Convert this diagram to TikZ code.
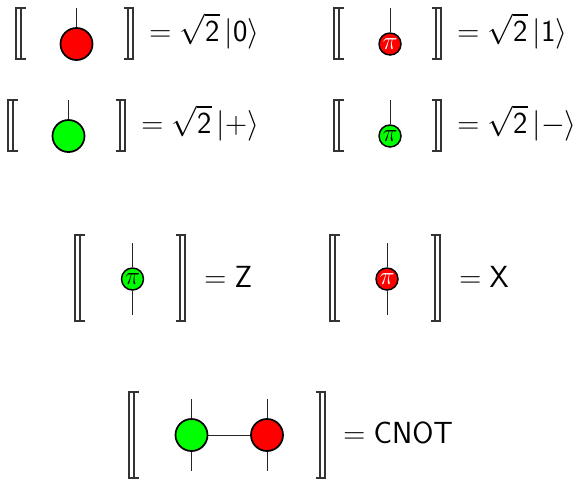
\documentclass[tikz,border=0pt]{standalone}
\usepackage{fix-cm}
\usepackage{amsmath,amssymb}
\usepackage{tikz}
\usetikzlibrary{positioning}
\tikzset{
  brk/.style={line width=1pt,black!80},
  wire/.style={line width=0.75pt,black!85},
  rbig/.style={circle,draw=black,fill=red,line width=1.3pt,minimum size=24pt,inner sep=0pt},
  gbig/.style={circle,draw=black,fill=green,line width=1.3pt,minimum size=24pt,inner sep=0pt},
  rpi/.style={circle,draw=black,fill=red,text=white,line width=1.1pt,minimum size=16.5pt,inner sep=0pt,font=\fontsize{19}{19}\selectfont},
  gpi/.style={circle,draw=black,fill=green,text=black,line width=1.1pt,minimum size=16.5pt,inner sep=0pt,font=\fontsize{19}{19}\selectfont},
  eqn/.style={anchor=base west,inner sep=0pt,font=\fontsize{22.9}{25}\selectfont},
}
% semantic brackets: left x, right x, top y, bottom y
\newcommand{\dbrk}[4]{
  \draw[brk] (#1+9.5,#3)--(#1,#3)--(#1,#4)--(#1+9.5,#4);
  \draw[brk] (#1+5,#3)--(#1+5,#4);
  \draw[brk] (#2-9.5,#3)--(#2,#3)--(#2,#4)--(#2-9.5,#4);
  \draw[brk] (#2-5,#3)--(#2-5,#4);
}
\newcommand{\ket}[1]{\lvert #1\rangle}
\begin{document}
\begin{tikzpicture}[x=0.75pt,y=-0.75pt]
  \useasboundingbox (0,0) rectangle (575,483);
  % states, red row
  \dbrk{16}{133}{8}{59}
  \node[rbig] (zero) at (76.5,44) {};
  \coordinate (zerotop) at (76.5,8);
  \draw[wire] (zerotop)--(zero);
  \node[eqn] (zeroeq) at (149,41) {$=\sqrt{\mathsf{2}}\,\ket{\mathsf{0}}$};
  \dbrk{334}{441}{8}{59}
  \node[rpi] (one) at (390,44) {$\pi$};
  \coordinate (onetop) at (390,8);
  \draw[wire] (onetop)--(one);
  \node[eqn] (oneeq) at (457,41) {$=\sqrt{\mathsf{2}}\,\ket{\mathsf{1}}$};
  % states, green row
  \dbrk{8}{125}{100}{151}
  \node[gbig] (plus) at (68.5,136) {};
  \coordinate (plustop) at (68.5,100);
  \draw[wire] (plustop)--(plus);
  \node[eqn] (pluseq) at (141,133) {$=\sqrt{\mathsf{2}}\,\ket{+}$};
  \dbrk{334}{441}{100}{151}
  \node[gpi] (minus) at (390,136) {$\pi$};
  \coordinate (minustop) at (390,100);
  \draw[wire] (minustop)--(minus);
  \node[eqn] (minuseq) at (457,133) {$=\sqrt{\mathsf{2}}\,\ket{-}$};
  % Z and X
  \dbrk{75}{185}{235}{321}
  \coordinate (ztop) at (132.5,243);
  \coordinate (zbot) at (132.5,315);
  \node[gpi] (zgate) at (132.5,279) {$\pi$};
  \draw[wire] (ztop)--(zgate);
  \draw[wire] (zgate)--(zbot);
  \node[eqn] (zeq) at (204,287) {$=\mathsf{Z}$};
  \dbrk{330}{440}{235}{321}
  \coordinate (xtop) at (387,243);
  \coordinate (xbot) at (387,315);
  \node[rpi] (xgate) at (387,279) {$\pi$};
  \draw[wire] (xtop)--(xgate);
  \draw[wire] (xgate)--(xbot);
  \node[eqn] (xeq) at (459,287) {$=\mathsf{X}$};
  % CNOT
  \dbrk{129}{325}{392}{478}
  \node[gbig] (ctrl) at (191.5,435) {};
  \node[rbig] (targ) at (267,435) {};
  \coordinate (ctop) at (191.5,399);
  \coordinate (cbot) at (191.5,471);
  \coordinate (ttop) at (267,399);
  \coordinate (tbot) at (267,471);
  \draw[wire] (ctop)--(ctrl);
  \draw[wire] (ctrl)--(cbot);
  \draw[wire] (ttop)--(targ);
  \draw[wire] (targ)--(tbot);
  \draw[wire] (ctrl)--(targ);
  \node[eqn] (cnoteq) at (343,443) {$=\mathsf{CNOT}$};
\end{tikzpicture}
\end{document}
